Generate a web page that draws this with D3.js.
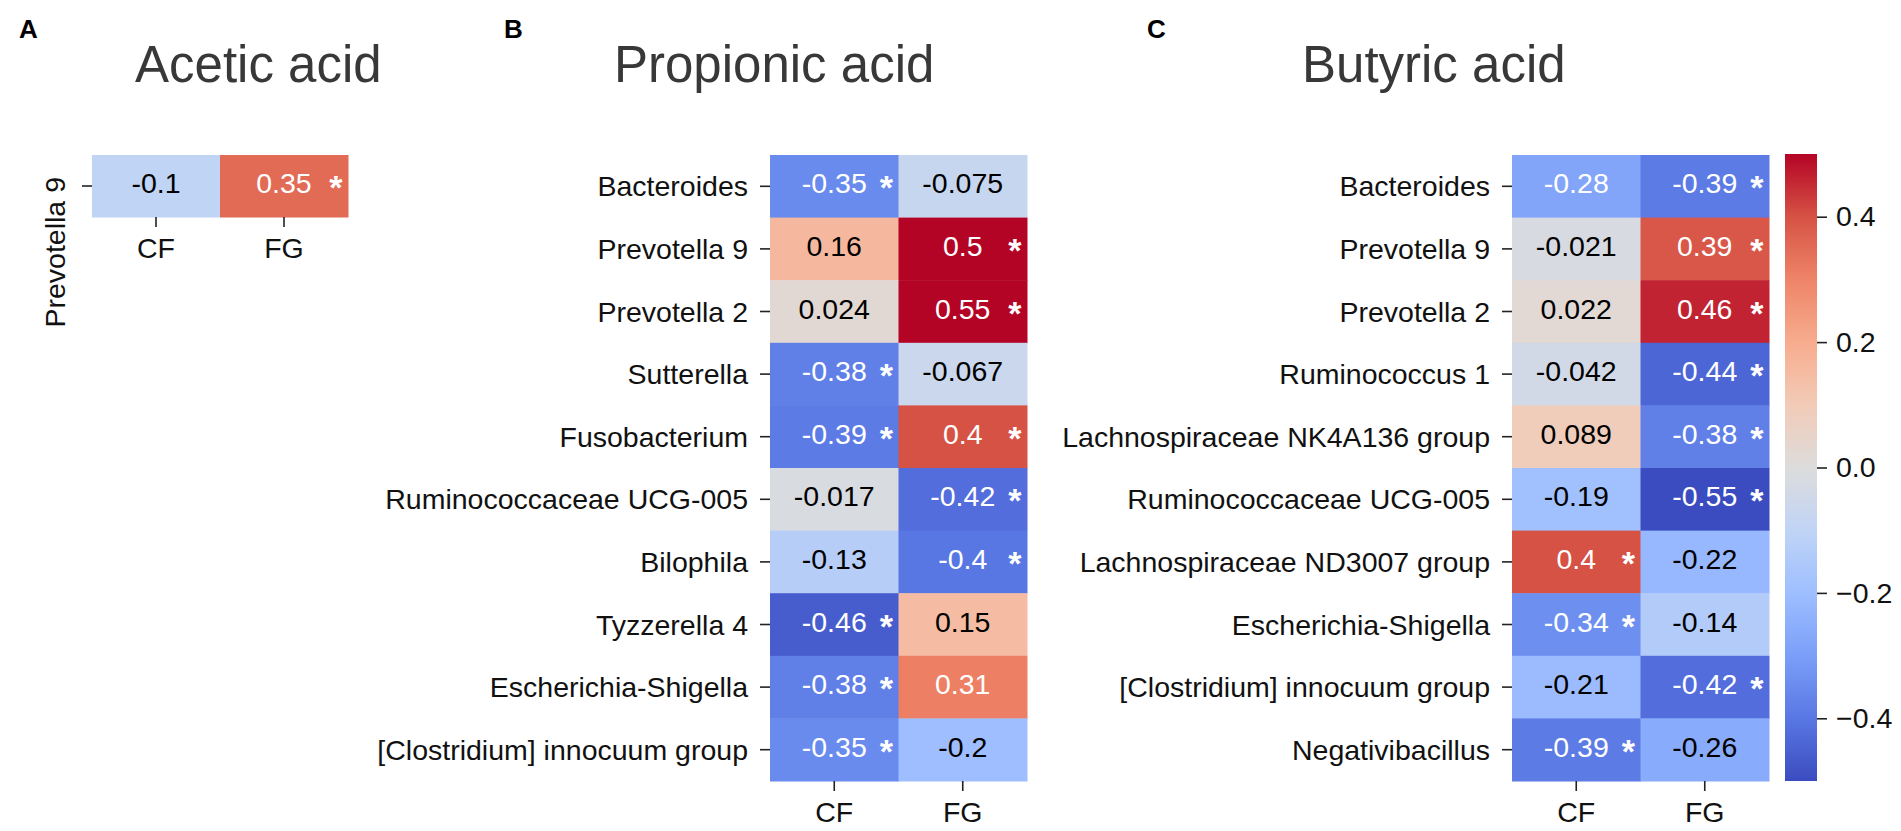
<!DOCTYPE html>
<html>
<head>
<meta charset="utf-8">
<script src="https://cdn.jsdelivr.net/npm/d3@7"></script>
<style>
  body { margin: 0; background: #fff; }
  text { font-family: "Liberation Sans", Arial, sans-serif; }
</style>
</head>
<body>
<div id="content"></div>
<script>
// columns shared by all three heatmaps
var groups = ["CF", "FG"];

// A - Acetic acid
var acetRows = ["Prevotella 9"];
var acetCF = [-0.1];
var acetFG = [0.35];
var acetSigCF = [false];
var acetSigFG = [true];

// B - Propionic acid
var propRows = ["Bacteroides", "Prevotella 9", "Prevotella 2", "Sutterella", "Fusobacterium",
  "Ruminococcaceae UCG-005", "Bilophila", "Tyzzerella 4", "Escherichia-Shigella", "[Clostridium] innocuum group"];
var propCF = [-0.35, 0.16, 0.024, -0.38, -0.39, -0.017, -0.13, -0.46, -0.38, -0.35];
var propFG = [-0.075, 0.5, 0.55, -0.067, 0.4, -0.42, -0.4, 0.15, 0.31, -0.2];
var propSigCF = [true, false, false, true, true, false, false, true, true, true];
var propSigFG = [false, true, true, false, true, true, true, false, false, false];

// C - Butyric acid
var butRows = ["Bacteroides", "Prevotella 9", "Prevotella 2", "Ruminococcus 1", "Lachnospiraceae NK4A136 group",
  "Ruminococcaceae UCG-005", "Lachnospiraceae ND3007 group", "Escherichia-Shigella", "[Clostridium] innocuum group", "Negativibacillus"];
var butCF = [-0.28, -0.021, 0.022, -0.042, 0.089, -0.19, 0.4, -0.34, -0.21, -0.39];
var butFG = [-0.39, 0.39, 0.46, -0.44, -0.38, -0.55, -0.22, -0.14, -0.42, -0.26];
var butSigCF = [false, false, false, false, false, false, true, true, false, true];
var butSigFG = [true, true, true, true, true, true, false, false, true, false];

// colorbar
var cbarTicks = [-0.4, -0.2, 0.0, 0.2, 0.4];

// coolwarm, sampled at 0, 0.1, ... 1
var coolwarm = ['#3b4cc0', '#5977e3', '#7b9ff9', '#9ebeff', '#c0d4f5', '#dddcdc',
  '#f2cbb7', '#f7ac8e', '#ee8468', '#d65244', '#b40426'];
var vmin = -0.5, vmax = 0.5;

var color = d3.scaleLinear()
  .domain(d3.range(11).map(function (i) { return vmin + i * (vmax - vmin) / 10; }))
  .range(coolwarm)
  .interpolate(d3.interpolateRgb)
  .clamp(true);

var fmt = d3.formatLocale({ decimal: ".", thousands: ",", grouping: [3], currency: ["", ""], minus: "-" }).format(".2~g");

var FS = 28.5;

// seaborn picks text colour from luminance
function textColor(c) {
  var rgb = d3.rgb(c);
  var lin = [rgb.r, rgb.g, rgb.b].map(function (v) {
    v = v / 255;
    return v <= 0.03928 ? v / 12.92 : Math.pow((v + 0.055) / 1.055, 2.4);
  });
  var lum = 0.2126 * lin[0] + 0.7152 * lin[1] + 0.0722 * lin[2];
  return lum > 0.408 ? "#000" : "#fff";
}

var svg = d3.select("#content").append("svg")
  .attr("width", 1901)
  .attr("height", 831);

function drawHeatmap(rows, cf, fg, sigCF, sigFG, box, rotateY) {
  var x = d3.scaleBand().domain(groups).range([box.x0, box.x1]);
  var y = d3.scaleBand().domain(rows).range([box.y0, box.y1]);

  var cells = [];
  rows.forEach(function (r, i) {
    cells.push({ row: r, col: "CF", v: cf[i], sig: sigCF[i] });
    cells.push({ row: r, col: "FG", v: fg[i], sig: sigFG[i] });
  });

  var g = svg.append("g");

  g.selectAll("rect.cell")
    .data(cells)
    .enter().append("rect")
    .attr("class", "cell")
    .attr("x", function (d) { return x(d.col); })
    .attr("y", function (d) { return y(d.row); })
    .attr("width", x.bandwidth() + 0.5)
    .attr("height", y.bandwidth() + 0.5)
    .attr("fill", function (d) { return color(d.v); });

  g.selectAll("text.val")
    .data(cells)
    .enter().append("text")
    .attr("class", "val")
    .attr("x", function (d) { return x(d.col) + x.bandwidth() / 2; })
    .attr("y", function (d) { return y(d.row) + y.bandwidth() / 2 + 7; })
    .attr("text-anchor", "middle")
    .attr("font-size", FS)
    .attr("fill", function (d) { return textColor(color(d.v)); })
    .text(function (d) { return fmt(d.v); });

  g.selectAll("text.star")
    .data(cells.filter(function (d) { return d.sig; }))
    .enter().append("text")
    .attr("class", "star")
    .attr("x", function (d) { return x(d.col) + x.bandwidth() * 0.905; })
    .attr("y", function (d) { return y(d.row) + y.bandwidth() / 2 + 13; })
    .attr("text-anchor", "middle")
    .attr("font-size", 34)
    .attr("font-weight", "bold")
    .attr("fill", "#fff")
    .text("*");

  // x axis
  var xa = g.append("g");
  groups.forEach(function (c) {
    var cx = x(c) + x.bandwidth() / 2;
    xa.append("line")
      .attr("x1", cx).attr("x2", cx)
      .attr("y1", box.y1).attr("y2", box.y1 + 10)
      .attr("stroke", "#222").attr("stroke-width", 1.6);
    xa.append("text")
      .attr("x", cx).attr("y", box.y1 + 41)
      .attr("text-anchor", "middle")
      .attr("font-size", FS)
      .attr("fill", "#111")
      .text(c);
  });

  // y axis
  var ya = g.append("g");
  rows.forEach(function (r) {
    var cy = y(r) + y.bandwidth() / 2;
    ya.append("line")
      .attr("x1", box.x0 - 10).attr("x2", box.x0)
      .attr("y1", cy).attr("y2", cy)
      .attr("stroke", "#222").attr("stroke-width", 1.6);
    if (rotateY) {
      ya.append("text")
        .attr("transform", "translate(" + (box.x0 - 27) + "," + (cy - 9) + ") rotate(-90)")
        .attr("text-anchor", "end")
        .attr("font-size", FS)
        .attr("fill", "#111")
        .text(r);
    } else {
      ya.append("text")
        .attr("x", box.x0 - 22).attr("y", cy + 10)
        .attr("text-anchor", "end")
        .attr("font-size", FS)
        .attr("fill", "#111")
        .text(r);
    }
  });
}

function drawTitle(letter, lx, title, tx) {
  svg.append("text")
    .attr("x", lx).attr("y", 38)
    .attr("font-size", 26)
    .attr("font-weight", "bold")
    .attr("fill", "#000")
    .text(letter);
  svg.append("text")
    .attr("x", tx).attr("y", 82)
    .attr("font-size", 51)
    .attr("fill", "#383838")
    .text(title);
}

drawTitle("A", 19, "Acetic acid", 135);
drawTitle("B", 504, "Propionic acid", 614);
drawTitle("C", 1147, "Butyric acid", 1302);

drawHeatmap(acetRows, acetCF, acetFG, acetSigCF, acetSigFG, { x0: 92, x1: 348, y0: 155, y1: 217 }, true);
drawHeatmap(propRows, propCF, propFG, propSigCF, propSigFG, { x0: 770, x1: 1027, y0: 155, y1: 781 }, false);
drawHeatmap(butRows, butCF, butFG, butSigCF, butSigFG, { x0: 1512, x1: 1769, y0: 155, y1: 781 }, false);

// colorbar
var cb = { x0: 1785, x1: 1817, y0: 154, y1: 781 };
var cy = d3.scaleLinear().domain([vmin, vmax]).range([cb.y1, cb.y0]);

var grad = svg.append("defs").append("linearGradient")
  .attr("id", "cbgrad")
  .attr("x1", 0).attr("y1", 1).attr("x2", 0).attr("y2", 0);
grad.selectAll("stop")
  .data(coolwarm)
  .enter().append("stop")
  .attr("offset", function (d, i) { return (i / 10 * 100) + "%"; })
  .attr("stop-color", function (d) { return d; });

svg.append("rect")
  .attr("x", cb.x0).attr("y", cb.y0)
  .attr("width", cb.x1 - cb.x0).attr("height", cb.y1 - cb.y0)
  .attr("fill", "url(#cbgrad)");

var cbAxis = d3.axisRight(cy)
  .tickValues(cbarTicks)
  .tickFormat(d3.format(".1f"))
  .tickSize(10)
  .tickPadding(9);

var cbg = svg.append("g")
  .attr("transform", "translate(" + cb.x1 + ",0)")
  .call(cbAxis);
cbg.select(".domain").remove();
cbg.selectAll(".tick line").attr("stroke", "#222").attr("stroke-width", 1.6);
cbg.selectAll(".tick text")
  .attr("font-size", FS)
  .attr("font-family", "Liberation Sans, Arial, sans-serif")
  .attr("fill", "#111");
</script>
</body>
</html>
